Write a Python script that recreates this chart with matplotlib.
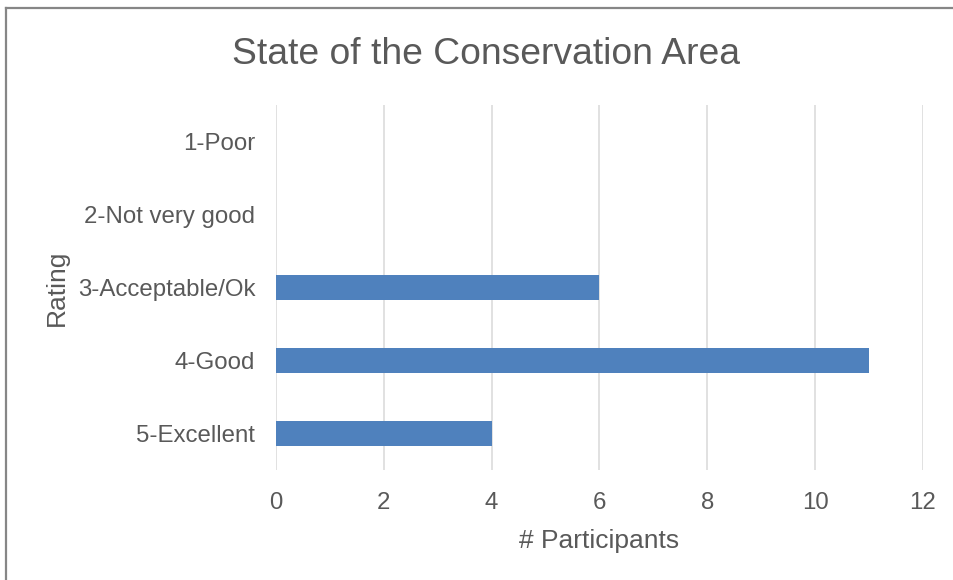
import matplotlib.pyplot as plt
from matplotlib.lines import Line2D

ratings = ['1-Poor', '2-Not very good', '3-Acceptable/Ok', '4-Good', '5-Excellent']
participants = [0, 0, 6, 11, 4]
xticks = [0, 2, 4, 6, 8, 10, 12]

bar_color = '#4F81BD'
text_color = '#595959'
grid_color = '#D9D9D9'

plt.rcParams['font.family'] = ['Liberation Sans', 'DejaVu Sans']

fig = plt.figure(figsize=(9.54, 5.80), dpi=100)
ax = fig.add_axes([0.2893, 0.1897, 0.9675 - 0.2893, 0.819 - 0.1897])

ypos = list(range(len(ratings)))
ax.barh(ypos, participants, height=0.345, color=bar_color, zorder=3)

ax.set_ylim(len(ratings) - 0.5, -0.5)
ax.set_yticks(ypos)
ax.set_yticklabels(ratings)
ax.set_xlim(0, 12)
ax.set_xticks(xticks)
ax.set_xticklabels([str(v) for v in xticks])

ax.grid(axis='x', color=grid_color, linewidth=1.1, zorder=0)
ax.set_axisbelow(True)
for s in ax.spines.values():
    s.set_visible(False)
ax.tick_params(axis='both', length=0, labelsize=17.3, colors=text_color)
ax.tick_params(axis='y', pad=15)
ax.tick_params(axis='x', pad=16)

ax.set_xlabel('# Participants', fontsize=19, color=text_color, labelpad=11)
ax.set_ylabel('Rating', fontsize=19, color=text_color, labelpad=6)

fig.text(0.509, 0.906, 'State of the Conservation Area', ha='center', va='center',
         fontsize=26.8, color=text_color)

# chart-area outline along the top and left edges
fig.add_artist(Line2D([0.0058, 0.0058], [0, 1 - 7.5 / 580], color='#868686', linewidth=1.6))
fig.add_artist(Line2D([0.0058, 1], [1 - 7.5 / 580, 1 - 7.5 / 580], color='#868686', linewidth=1.6))

fig.savefig('out.png', dpi=100)
